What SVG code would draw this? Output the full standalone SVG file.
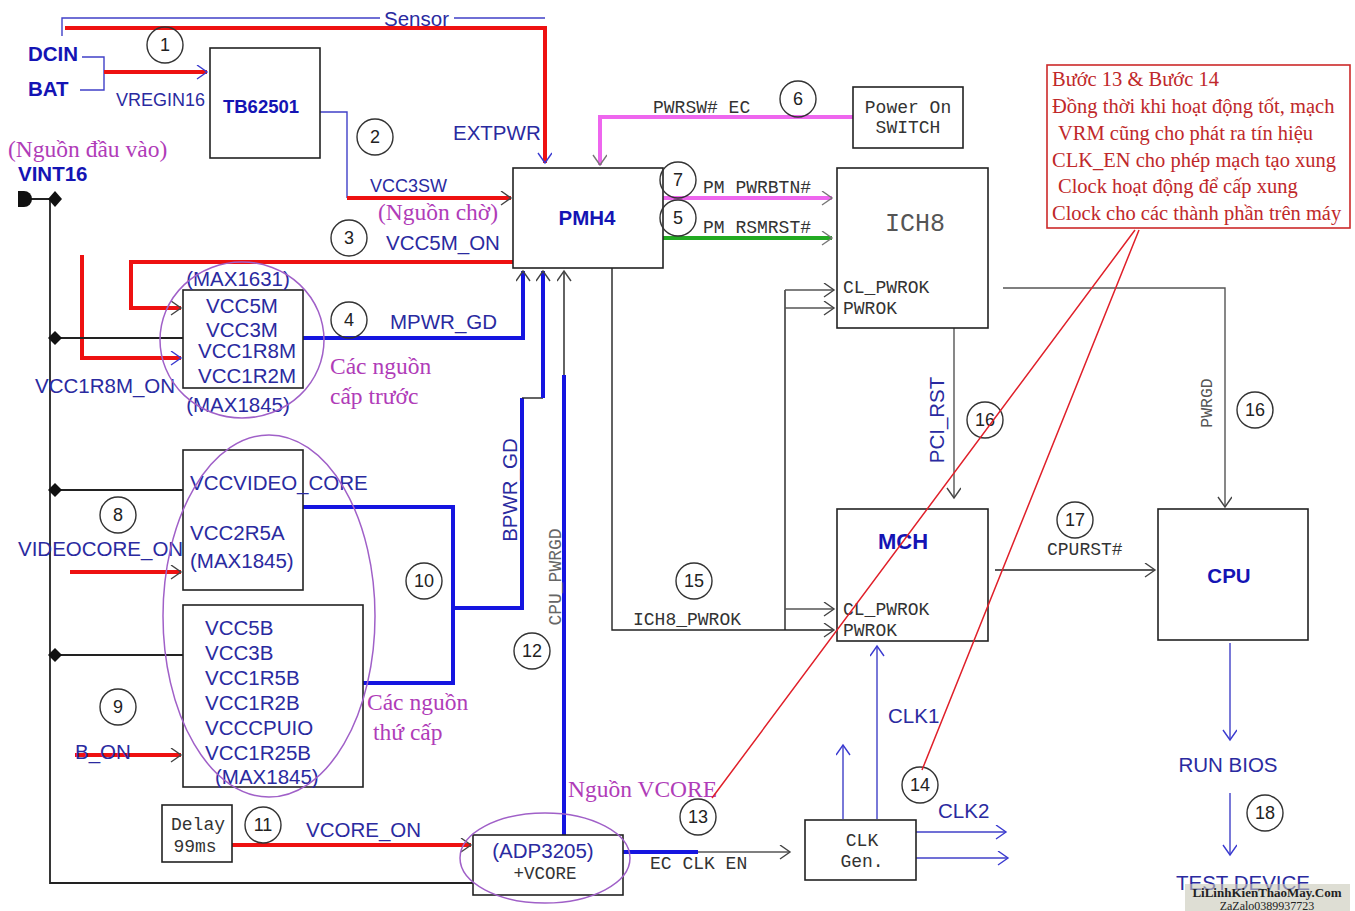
<svg xmlns="http://www.w3.org/2000/svg" width="1355" height="911" viewBox="0 0 1355 911">
<style>
.bx{fill:#fff;stroke:#222;stroke-width:1.6}
.t{font-family:"Liberation Sans",Arial,sans-serif;fill:#2a2aa0;font-size:20.5px}
.b{font-family:"Liberation Sans",Arial,sans-serif;fill:#1414b4;font-weight:bold;font-size:20.5px}
.m{font-family:"Liberation Mono","Courier New",monospace;fill:#333;font-size:18px}
.s{font-family:"Liberation Serif","Times New Roman",serif;fill:#b03cb8;font-size:23.5px}
.n{font-family:"Liberation Serif","Times New Roman",serif;fill:#c0282a;font-size:20.5px}
.c{fill:none;stroke:#333;stroke-width:1.4}
.ct{font-family:"Liberation Sans",Arial,sans-serif;fill:#222;font-size:18px;text-anchor:middle}
.red{fill:none;stroke:#ee1111;stroke-width:4}
.blu{fill:none;stroke:#1515e0;stroke-width:4}
.thb{fill:none;stroke:#4040c8;stroke-width:1.4}
.blk{fill:none;stroke:#222;stroke-width:1.8}
.gry{fill:none;stroke:#555;stroke-width:1.4}
.ell{fill:none;stroke:#a060c8;stroke-width:1.5}
</style>
<defs>
<marker id="ab" markerUnits="userSpaceOnUse" markerWidth="14" markerHeight="16" refX="11" refY="7" orient="auto"><path d="M1,0 L11,7 L1,14" fill="none" stroke="#3a3ad0" stroke-width="1.4"/></marker>
<marker id="ag" markerUnits="userSpaceOnUse" markerWidth="14" markerHeight="16" refX="11" refY="7" orient="auto"><path d="M1,0 L11,7 L1,14" fill="none" stroke="#444" stroke-width="1.4"/></marker>
<marker id="am" markerUnits="userSpaceOnUse" markerWidth="14" markerHeight="16" refX="11" refY="7" orient="auto"><path d="M1,0 L11,7 L1,14" fill="none" stroke="#777" stroke-width="1.4"/></marker>
</defs>
<rect width="1355" height="911" fill="#fff"/>

<g id="connectors">
<path class="thb" d="M62,36 V18 H380 M454,18 H545"/>
<path class="red" d="M65,28 H545 V163" marker-end="url(#ab)"/>
<path class="thb" d="M82,57 H104 V90 H80"/>
<path class="red" d="M104,72 H207" marker-end="url(#ab)"/>
<path class="thb" d="M320,112 H347 V198"/>
<path class="red" d="M347,198 H511" marker-end="url(#ag)"/>
<path class="red" d="M513,262 H131 V308 H181" marker-end="url(#ag)"/>
<path class="red" d="M82,255 V358 H181" marker-end="url(#ab)"/>
<path class="blk" d="M22,199 H55 M50,199 V883 H473"/>
<path class="blk" d="M55,338 H183 M55,490 H183 M55,655 H183"/>
<path class="blu" d="M303,338 H523 V271" marker-end="url(#ag)"/>
<path class="blu" d="M453,608 H522 V398"/>
<path class="blk" d="M522,398 H543" style="stroke-width:1.4"/>
<path class="blu" d="M543,398 V271" marker-end="url(#ag)"/>
<path class="blu" d="M303,507 H453 V683 H363"/>
<path class="blk" d="M564,375 V271" style="stroke-width:1.4" marker-end="url(#ag)"/>
<path class="blu" d="M564,375 V835"/>
<path class="blk" d="M612,268 V630 H834" style="stroke-width:1.4" marker-end="url(#ag)"/>
<path class="blk" d="M785,290 V630" style="stroke-width:1.4"/>
<path class="gry" d="M785,290 H834" marker-end="url(#ag)"/>
<path class="gry" d="M785,308 H834" marker-end="url(#ag)"/>
<path class="gry" d="M785,609 H834" marker-end="url(#ag)"/>
<path d="M663,198 H832" fill="none" stroke="#ee66ee" stroke-width="4" marker-end="url(#am)"/>
<path d="M663,238 H832" fill="none" stroke="#22aa22" stroke-width="4" marker-end="url(#am)"/>
<path d="M853,117 H600 V165" fill="none" stroke="#ee66ee" stroke-width="4" marker-end="url(#am)"/>
<path class="gry" d="M1003,288 H1225 V507" marker-end="url(#ag)"/>
<path class="gry" d="M954,328 V498" marker-end="url(#ag)"/>
<path class="blk" d="M995,570 H1155" style="stroke-width:1.4" marker-end="url(#ag)"/>
<path class="thb" d="M1230,643 V740" marker-end="url(#ab)"/>
<path class="thb" d="M1230,793 V855" marker-end="url(#ab)"/>
<path class="red" d="M232,845 H471" marker-end="url(#ag)"/>
<path class="blu" d="M623,852 H698"/>
<path class="gry" d="M698,852 H790" marker-end="url(#ag)"/>
<path class="thb" d="M843,819 V745" marker-end="url(#ab)"/>
<path class="thb" d="M877,819 V646" marker-end="url(#ab)"/>
<path class="thb" d="M916,832 H1006" marker-end="url(#ab)"/>
<path class="thb" d="M916,858 H1008" marker-end="url(#ab)"/>
<path class="red" d="M70,572 H181" marker-end="url(#ag)"/>
<path class="red" d="M75,755 H181" marker-end="url(#ag)"/>
</g>

<g id="labels">
<text class="t" x="384" y="26">Sensor</text>
<text class="t" x="116" y="106" style="font-size:18px">VREGIN16</text>
<text class="t" x="453" y="140">EXTPWR</text>
<text class="t" x="370" y="192" style="font-size:18px">VCC3SW</text>
<text class="s" x="378" y="220">(Nguồn chờ)</text>
<text class="t" x="386" y="250">VCC5M_ON</text>
<text class="t" x="390" y="329">MPWR_GD</text>
<text class="t" x="35" y="393">VCC1R8M_ON</text>
<text class="s" x="330" y="374">Các nguồn</text>
<text class="s" x="330" y="404">cấp trước</text>
<text class="t" x="18" y="556">VIDEOCORE_ON</text>
<text class="t" x="75" y="759">B_ON</text>
<text class="s" x="367" y="710">Các nguồn</text>
<text class="s" x="373" y="740">thứ cấp</text>
<text class="t" transform="translate(517,490) rotate(-90)" text-anchor="middle">BPWR_GD</text>
<text class="m" transform="translate(561,577) rotate(-90)" text-anchor="middle" style="fill:#666">CPU_PWRGD</text>
<text class="t" x="306" y="837">VCORE_ON</text>
<text class="s" x="568" y="797">Nguồn VCORE</text>
<text class="m" x="650" y="869">EC CLK EN</text>
<text class="m" x="653" y="113">PWRSW# EC</text>
<text class="m" x="703" y="193">PM PWRBTN#</text>
<text class="m" x="703" y="233">PM RSMRST#</text>
<text class="m" x="633" y="625">ICH8_PWROK</text>
<text class="t" transform="translate(944,420) rotate(-90)" text-anchor="middle">PCI_RST</text>
<text class="m" transform="translate(1212,403) rotate(-90)" text-anchor="middle" style="font-size:16.5px;fill:#555">PWRGD</text>
<text class="m" x="1047" y="555">CPURST#</text>
<text class="t" x="888" y="723">CLK1</text>
<text class="t" x="938" y="818">CLK2</text>
<text class="t" x="1228" y="772" text-anchor="middle">RUN BIOS</text>
<text class="t" x="1243" y="890" text-anchor="middle">TEST DEVICE</text>
</g>

<g id="vint16">
<path d="M18,191 H24 A8,8 0 0 1 24,207 H18 Z" fill="#111"/>
<polygon points="55,191 62,199 55,207 48,199" fill="#111"/>
<text class="s" x="8" y="157">(Nguồn đầu vào)</text>
<text class="b" x="18" y="181">VINT16</text>
</g>
<g id="junctions" fill="#111">
<polygon points="55,331 62,338 55,345 48,338"/>
<polygon points="55,483 62,490 55,497 48,490"/>
<polygon points="55,648 62,655 55,662 48,655"/>
</g>

<g id="dcin"><text class="b" x="28" y="61">DCIN</text></g>
<g id="bat"><text class="b" x="28" y="96">BAT</text></g>

<g id="tb62501">
<rect class="bx" x="210" y="48" width="110" height="110"/>
<text class="b" x="261" y="113" text-anchor="middle" style="font-size:18.5px">TB62501</text>
</g>

<g id="pmh4">
<rect class="bx" x="513" y="168" width="150" height="100"/>
<text class="b" x="587" y="225" text-anchor="middle">PMH4</text>
</g>

<g id="poweron">
<rect class="bx" x="853" y="87" width="110" height="61"/>
<text class="m" x="908" y="113" text-anchor="middle">Power On</text>
<text class="m" x="908" y="133" text-anchor="middle">SWITCH</text>
</g>

<g id="ich8">
<rect class="bx" x="837" y="168" width="151" height="160"/>
<text class="m" x="915" y="231" text-anchor="middle" style="font-size:25px;fill:#555">ICH8</text>
<text class="m" x="843" y="293">CL_PWROK</text>
<text class="m" x="843" y="314">PWROK</text>
</g>

<g id="max1631">
<rect class="bx" x="183" y="290" width="120" height="98"/>
<text class="t" x="238" y="286" text-anchor="middle">(MAX1631)</text>
<text class="t" x="242" y="313" text-anchor="middle">VCC5M</text>
<text class="t" x="242" y="337" text-anchor="middle">VCC3M</text>
<text class="t" x="247" y="358" text-anchor="middle">VCC1R8M</text>
<text class="t" x="247" y="383" text-anchor="middle">VCC1R2M</text>
<text class="t" x="238" y="412" text-anchor="middle">(MAX1845)</text>
<ellipse class="ell" cx="242" cy="340" rx="82" ry="78"/>
</g>

<g id="vccvideo">
<rect class="bx" x="183" y="450" width="120" height="140"/>
<text class="t" x="190" y="490">VCCVIDEO_CORE</text>
<text class="t" x="190" y="540">VCC2R5A</text>
<text class="t" x="190" y="568">(MAX1845)</text>
</g>

<g id="vccb">
<rect class="bx" x="183" y="605" width="180" height="182"/>
<text class="t" x="205" y="635">VCC5B</text>
<text class="t" x="205" y="660">VCC3B</text>
<text class="t" x="205" y="685">VCC1R5B</text>
<text class="t" x="205" y="710">VCC1R2B</text>
<text class="t" x="205" y="735">VCCCPUIO</text>
<text class="t" x="205" y="760">VCC1R25B</text>
<text class="t" x="215" y="784">(MAX1845)</text>
<ellipse class="ell" cx="269" cy="616" rx="106" ry="181"/>
</g>

<g id="delay">
<rect class="bx" x="162" y="805" width="70" height="57"/>
<text class="m" x="198" y="830" text-anchor="middle">Delay</text>
<text class="m" x="195" y="852" text-anchor="middle">99ms</text>
</g>

<g id="adp3205">
<rect class="bx" x="473" y="835" width="150" height="60"/>
<text class="t" x="543" y="858" text-anchor="middle">(ADP3205)</text>
<text class="m" x="545" y="879" text-anchor="middle" style="font-size:17.5px">+VCORE</text>
<ellipse class="ell" cx="545" cy="858" rx="85" ry="45"/>
</g>

<g id="clkgen">
<rect class="bx" x="805" y="820" width="111" height="60"/>
<text class="m" x="862" y="846" text-anchor="middle">CLK</text>
<text class="m" x="862" y="867" text-anchor="middle">Gen.</text>
</g>

<g id="mch">
<rect class="bx" x="837" y="509" width="151" height="132"/>
<text class="b" x="903" y="549" text-anchor="middle" style="font-size:22px">MCH</text>
<text class="m" x="843" y="615">CL_PWROK</text>
<text class="m" x="843" y="636">PWROK</text>
</g>

<g id="cpu">
<rect class="bx" x="1158" y="509" width="150" height="131"/>
<text class="b" x="1229" y="583" text-anchor="middle">CPU</text>
</g>

<g id="note">
<rect x="1047" y="65" width="303" height="163" fill="#fff" stroke="#cc2a2a" stroke-width="1.6"/>
<text class="n" x="1052" y="86">Bước 13 &amp; Bước 14</text>
<text class="n" x="1052" y="113">Đồng thời khi hoạt động tốt, mạch</text>
<text class="n" x="1058" y="140">VRM cũng cho phát ra tín hiệu</text>
<text class="n" x="1052" y="167">CLK_EN cho phép mạch tạo xung</text>
<text class="n" x="1058" y="193">Clock hoạt động để cấp xung</text>
<text class="n" x="1052" y="220">Clock cho các thành phần trên máy</text>
</g>

<g id="steps">
<circle class="c" cx="165" cy="45" r="18"/><text class="ct" x="165" y="51">1</text>
<circle class="c" cx="375" cy="137" r="18"/><text class="ct" x="375" y="143">2</text>
<circle class="c" cx="349" cy="238" r="18"/><text class="ct" x="349" y="244">3</text>
<circle class="c" cx="349" cy="320" r="18"/><text class="ct" x="349" y="326">4</text>
<circle class="c" cx="678" cy="218" r="18"/><text class="ct" x="678" y="224">5</text>
<circle class="c" cx="798" cy="99" r="18"/><text class="ct" x="798" y="105">6</text>
<circle class="c" cx="678" cy="180" r="18"/><text class="ct" x="678" y="186">7</text>
<circle class="c" cx="118" cy="515" r="18"/><text class="ct" x="118" y="521">8</text>
<circle class="c" cx="118" cy="707" r="18"/><text class="ct" x="118" y="713">9</text>
<circle class="c" cx="424" cy="581" r="18"/><text class="ct" x="424" y="587">10</text>
<circle class="c" cx="263" cy="825" r="18"/><text class="ct" x="263" y="831">11</text>
<circle class="c" cx="532" cy="651" r="18"/><text class="ct" x="532" y="657">12</text>
<circle class="c" cx="698" cy="817" r="18"/><text class="ct" x="698" y="823">13</text>
<circle class="c" cx="920" cy="785" r="18"/><text class="ct" x="920" y="791">14</text>
<circle class="c" cx="694" cy="581" r="18"/><text class="ct" x="694" y="587">15</text>
<circle class="c" cx="985" cy="420" r="18"/><text class="ct" x="985" y="426">16</text>
<circle class="c" cx="1255" cy="410" r="18"/><text class="ct" x="1255" y="416">16</text>
<circle class="c" cx="1075" cy="520" r="18"/><text class="ct" x="1075" y="526">17</text>
<circle class="c" cx="1265" cy="813" r="18"/><text class="ct" x="1265" y="819">18</text>
</g>

<g id="note-pointers">
<path d="M712,798 L1135,230 M922,770 L1139,230" fill="none" stroke="#e0202a" stroke-width="1.5"/>
</g>

<g id="watermark">
<rect x="1185" y="884" width="165" height="27" fill="#c8c8b8" opacity="0.6"/>
<text x="1267" y="897" text-anchor="middle" style="font-family:'Liberation Serif',serif;font-size:13px;font-weight:bold;fill:#222">LiLinhKienThaoMay.Com</text>
<text x="1267" y="910" text-anchor="middle" style="font-family:'Liberation Serif',serif;font-size:12px;fill:#222">ZaZalo0389937723</text>
</g>
</svg>
